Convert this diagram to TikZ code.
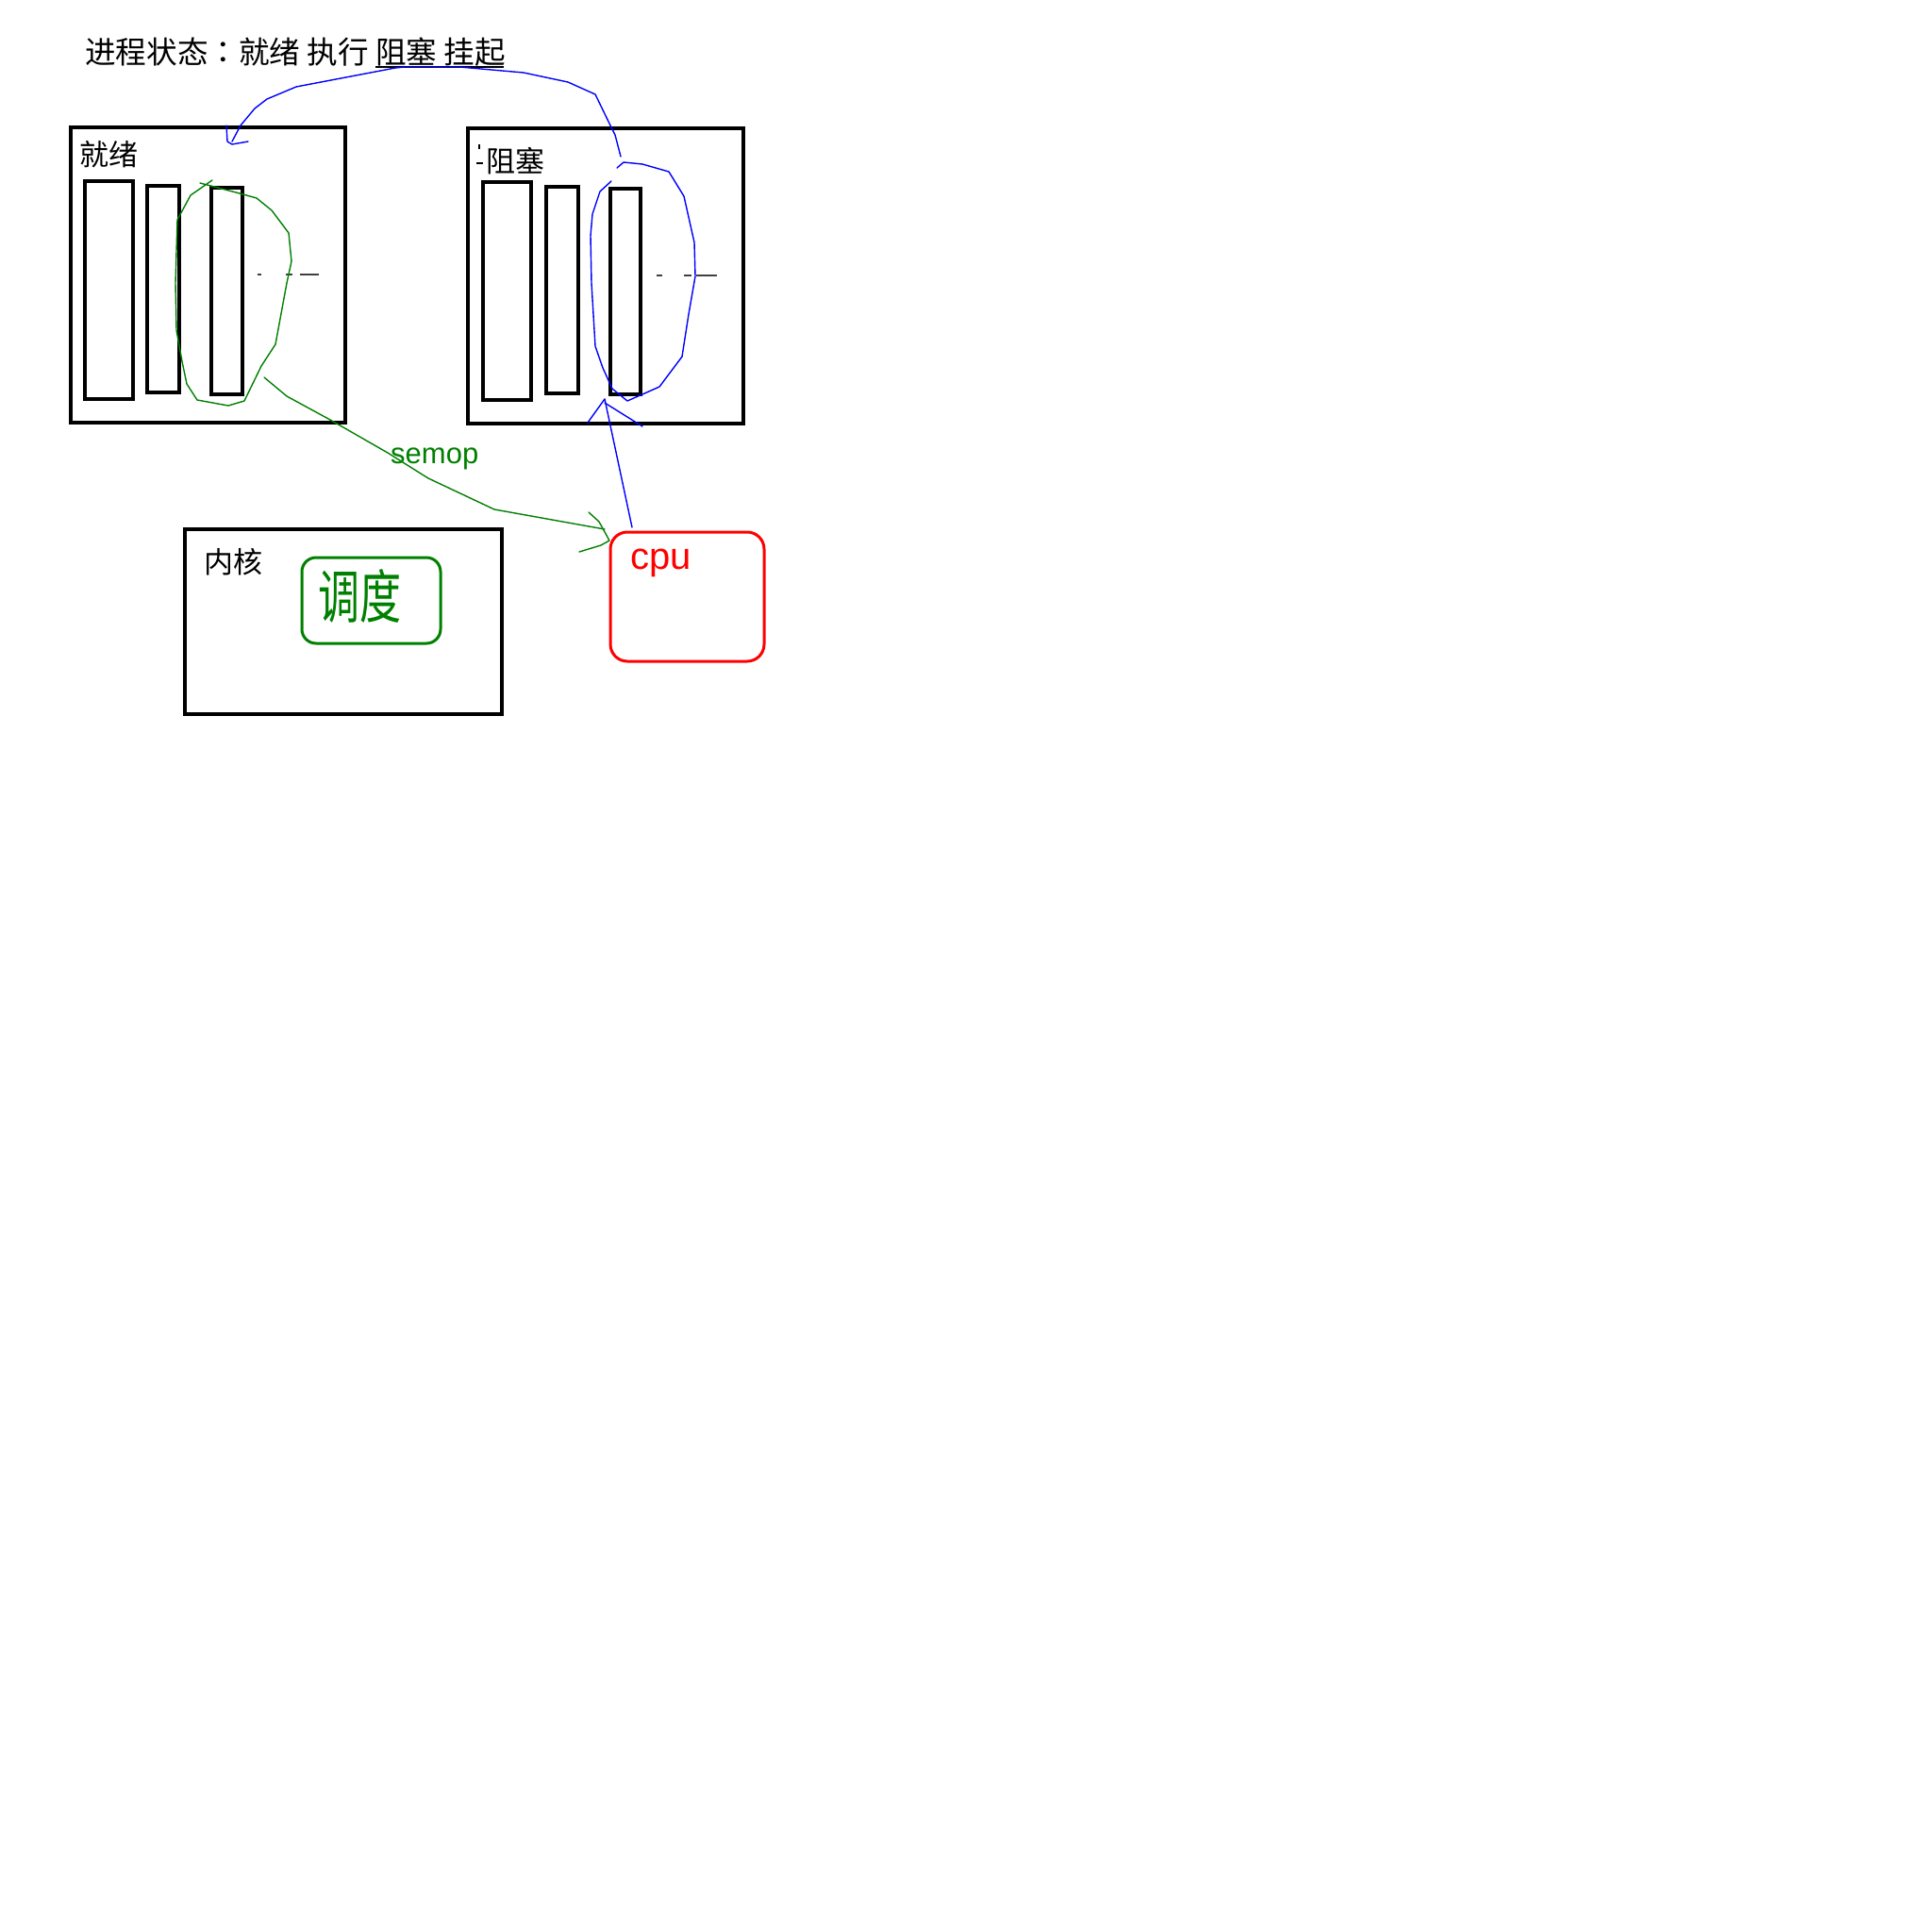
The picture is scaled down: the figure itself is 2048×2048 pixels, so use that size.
\documentclass[tikz,border=0pt]{standalone}
\usepackage{fontspec}
\setmainfont{Noto Sans CJK SC}
\newfontfamily\tcfont{Noto Sans CJK TC}
\newfontfamily\latinsans{Liberation Sans}
\definecolor{pgreen}{RGB}{0,128,0}
\definecolor{pblue}{RGB}{0,0,255}
\definecolor{pred}{RGB}{255,0,0}
\begin{document}
\begin{tikzpicture}[x=1pt,y=-1pt,
  box/.style={draw=black,line width=3.2pt,inner sep=0pt,outer sep=0pt},
  bar/.style={draw=black,line width=3.2pt,inner sep=0pt,outer sep=0pt},
  lbl/.style={anchor=base west,inner sep=0pt,font=\fontsize{31}{36}\selectfont},
  ink/.style={line width=1.4pt,line join=round,line cap=round},
  dashmark/.style={draw=black!75,line width=1.3pt}
]
\useasboundingbox[fill=white] (0,0) rectangle (2048,2048);

% title
\node[anchor=base west,inner sep=0pt,font=\fontsize{32.6}{38}\selectfont] (title) at (90,67) {进程状态{\tcfont ：}就绪 执行 阻塞 挂起};
\draw[black,line width=1.3pt] (398,71) -- (534,71);

% ready box
\node[box,minimum width=291pt,minimum height=313pt] (ready) at (220.5,291.5) {};
\node[lbl] (readylbl) at (84,175) {就绪};
\node[bar,minimum width=51pt,minimum height=231pt] (r1) at (115.5,307.5) {};
\node[bar,minimum width=34pt,minimum height=219pt] (r2) at (173,306.5) {};
\node[bar,minimum width=33pt,minimum height=219pt] (r3) at (240.5,308.5) {};
\draw[dashmark] (273,291) -- (277,291) (303,291) -- (310,291) (318,291) -- (338,291);

% blocked box
\node[box,minimum width=292pt,minimum height=313pt] (blocked) at (642,292.5) {};
\node[lbl] (blockedlbl) at (515,182) {阻塞};
\draw[black,line width=1.2pt] (508,153) -- (508,158) (505,173) -- (512,173);
\node[bar,minimum width=51pt,minimum height=231pt] (b1) at (537.5,308.5) {};
\node[bar,minimum width=34pt,minimum height=219pt] (b2) at (596,307.5) {};
\node[bar,minimum width=32pt,minimum height=218pt] (b3) at (663,309) {};
\draw[dashmark] (696,292) -- (702,292) (725,292) -- (733,292) (738,292) -- (760,292);

% kernel box
\node[box,minimum width=336pt,minimum height=196pt] (kernel) at (364,659) {};
\node[lbl] (kernellbl) at (216,607) {内核};
\node[draw=pgreen,line width=3pt,rounded corners=15pt,minimum width=147pt,minimum height=91pt,inner sep=0pt] (sched) at (393.5,636.5) {};
\node[text=pgreen,inner sep=0pt,yscale=1.4,font=\fontsize{44}{48}\selectfont] (schedtxt) at (381,632) {调度};

% cpu box
\node[draw=pred,line width=3pt,rounded corners=18pt,minimum width=163pt,minimum height=137pt,inner sep=0pt] (cpu) at (728.5,632.5) {};
\node[anchor=base west,inner sep=0pt,text=pred,font=\latinsans\fontsize{40}{46}\selectfont] (cputxt) at (668,603) {cpu};

% green loop around ready process
\draw[ink,pgreen] (212,194) -- (254,205) -- (272,210) -- (288,223) -- (306,247) -- (309,277) -- (304,300) -- (292,365) -- (277,388) -- (259,425) -- (242,430) -- (209,424) -- (198,407) -- (193,383) -- (187,350) -- (186,300) -- (188,233) -- (202,207) -- (225,191);

% green connector to cpu
\coordinate (gs) at (280,400);
\coordinate (ge) at (641,561);
\draw[ink,pgreen] (gs) -- (304,420) -- (350,445) -- (411,480) -- (454,507) -- (524,540) -- (ge);
\draw[ink,pgreen] (624,543) -- (635,553) -- (646,573) -- (637,578) -- (614,585);
\node[anchor=base west,inner sep=0pt,text=pgreen,font=\latinsans\fontsize{31}{36}\selectfont] (semop) at (414,491) {semop};

% blue loop around blocked process
\draw[ink,pblue] (648,192) -- (636,203) -- (628,227) -- (626,250) -- (627,300) -- (631,367) -- (639,390) -- (649,412) -- (665,425) -- (681,418) -- (699,410) -- (723,378) -- (730,333) -- (737,293) -- (736,257) -- (725,208) -- (709,182) -- (681,174) -- (661,172) -- (654,178);

% blue connector blocked -> ready
\coordinate (bs) at (658,166);
\coordinate (be) at (246,150);
\draw[ink,pblue] (bs) -- (652,143) -- (647,133) -- (631,100) -- (602,87) -- (555,77) -- (487,71) -- (429,71) -- (419,72) -- (314,92) -- (283,105) -- (270,115) -- (255,133) -- (be);
\draw[ink,pblue] (240,133) -- (241,150) -- (246,153) -- (263,150);

% blue connector cpu -> blocked
\coordinate (cs) at (670,559);
\coordinate (ce) at (641,423);
\draw[ink,pblue] (cs) -- (ce);
\draw[ink,pblue] (ce) -- (623,448);
\draw[ink,pblue] (641,427) -- (681,452);
\end{tikzpicture}
\end{document}
